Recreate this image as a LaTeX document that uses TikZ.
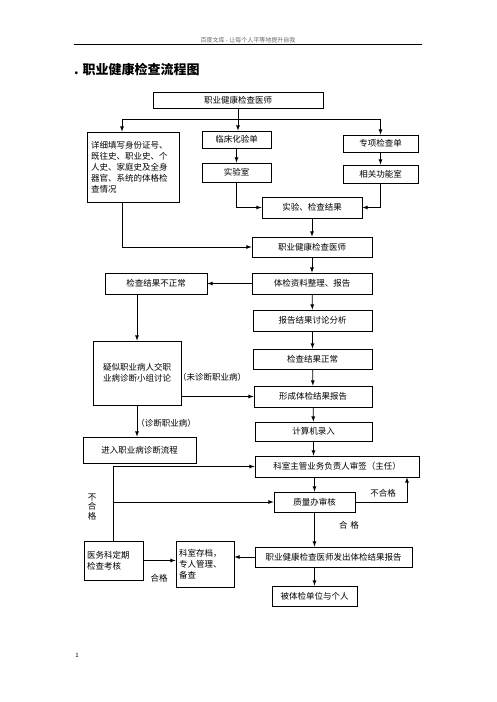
\documentclass[tikz,border=0pt]{standalone}
\usepackage{fontspec}
\setmainfont{Noto Sans CJK SC}
\usetikzlibrary{arrows}

\tikzset{
  box/.style={draw, line width=0.8pt, inner sep=1pt, font=\fontsize{8.5}{11}\selectfont},
  lbl/.style={inner sep=0pt, font=\fontsize{8.5}{11}\selectfont},
  link/.style={line width=0.8pt, ->, >=latex}
}

\begin{document}
\begin{tikzpicture}[x=1pt, y=-1pt]
    \useasboundingbox (0,0) rectangle (496,702);
    % page head
    \node (pagehead) at (248,40) {\fontsize{6}{7}\selectfont\color{black!60}百度文库 - 让每个人平等地提升自我};
    \coordinate (ruleL) at (74,44);
    \coordinate (ruleR) at (422,44);
    \draw [line width=0.9pt] (ruleL) -- (ruleR);
    \node [anchor=west, inner sep=0pt] (title) at (74,69) {\fontsize{13}{15}\selectfont\bfseries . 职业健康检查流程图};
    \node (pageno) at (77,655) {\fontsize{6}{7}\selectfont 1};
    % boxes
    \node [box, minimum width=170, minimum height=16] (doc1) at (238,100) {职业健康检查医师};
    \node [box, minimum width=92, minimum height=70, align=left, text width=84] (info) at (133,167)
      {详细填写身份证号、\\既往史、职业史、个\\人史、家庭史及全身\\器官、系统的体格检\\查情况};
    \node [box, minimum width=69, minimum height=17] (clin) at (236.5,139.5) {临床化验单};
    \node [box, minimum width=69, minimum height=19] (lab) at (236.5,172.5) {实验室};
    \node [box, minimum width=75, minimum height=17] (spec) at (380.5,143.5) {专项检查单};
    \node [box, minimum width=75, minimum height=18] (func) at (380.5,174) {相关功能室};
    \node [box, minimum width=100, minimum height=21] (result) at (312,207.5) {实验、检查结果};
    \node [box, minimum width=120, minimum height=20] (doc2) at (312,247) {职业健康检查医师};
    \node [box, minimum width=120, minimum height=21] (sort) at (312,283.5) {体检资料整理、报告};
    \node [box, minimum width=102, minimum height=21] (abn) at (156,283.5) {检查结果不正常};
    \node [box, minimum width=119, minimum height=21] (disc) at (312.5,320.5) {报告结果讨论分析};
    \node [box, minimum width=119, minimum height=20] (norm) at (312.5,359) {检查结果正常};
    \node [box, minimum width=88, minimum height=64, align=center] (susp) at (137,373) {疑似职业病人交职\\业病诊断小组讨论};
    \node [box, minimum width=118, minimum height=21] (form) at (313,396.5) {形成体检结果报告};
    \node [box, minimum width=117, minimum height=19] (comp) at (313.5,431.5) {计算机录入};
    \node [box, minimum width=113, minimum height=26] (diag) at (139.5,450) {进入职业病诊断流程};
    \node [box, minimum width=164, minimum height=21] (head) at (337,466.5) {科室主管业务负责人审签（主任）};
    \node [box, minimum width=81, minimum height=20] (qual) at (314.5,502) {质量办审核};
    \node [box, minimum width=59, minimum height=39, align=left, text width=53] (med) at (113.5,560.5) {医务科定期\\检查考核};
    \node [box, minimum width=58, minimum height=46, align=left, text width=52] (arch) at (205,564) {科室存档，\\专人管理、\\备查};
    \node [box, minimum width=157, minimum height=20] (issue) at (333.5,557) {职业健康检查医师发出体检结果报告};
    \node [box, minimum width=85, minimum height=20] (recv) at (314.5,596) {被体检单位与个人};
    % labels
    \node [lbl] (notdiag) at (212,377) {（未诊断职业病）};
    \node [lbl] (isdiag) at (166,423) {（诊断职业病）};
    \node [lbl] (failR) at (383,493) {不合格};
    \node [lbl, align=center, font=\fontsize{8.5}{9.5}\selectfont] (failL) at (92,507) {不\\合\\格};
    \node [lbl] (passL) at (159,578) {合格};
    \node [lbl] (passR) at (349,525) {合\,\,格};
    % connectors
    \coordinate (fork) at (238,119);
    \draw [line width=0.8pt] (doc1.south) -- (fork);
    \draw [link] (fork) -| ([xshift=-11pt]info.north);
    \draw [link] (fork) -| (spec.north);
    \draw [link] (fork) -- (fork |- clin.north);
    \draw [link] (clin) -- (lab);
    \draw [link] (spec) -- (func);
    \draw [link] (lab.south) |- (result.west);
    \draw [link] (func.south) |- (result.east);
    \draw [link] (result) -- (doc2);
    \draw [link] ([xshift=-11pt]info.south) |- (doc2.west);
    \draw [link] (doc2) -- (sort);
    \draw [link] (sort) -- (abn);
    \draw [link] (sort) -- (disc);
    \draw [link] (disc) -- (norm);
    \draw [link] (abn.south -| susp.north) -- (susp.north);
    \draw [link] (norm) -- (form);
    \draw [link] (susp.east |- form.west) -- (form.west);
    \draw [link] (form) -- (comp);
    \draw [link] (susp.south) -- (susp.south |- diag.north);
    \draw [link] (comp.south) -- (comp.south |- head.north);
    \draw [link] (qual.north |- head.south) -- (qual.north);
    \draw [link] (qual.east) -| ([xshift=70pt]head.south);
    \draw [link] (med.north) |- (head.west);
    \draw [link] (med.north |- qual.west) -- (qual.west);
    \draw [link] (med.east) -- (med.east -| arch.west);
    \draw [link] (qual.south) -- (qual.south |- issue.north);
    \draw [link] (issue.west) -- (issue.west -| arch.east);
    \draw [link] (recv.north |- issue.south) -- (recv.north);
\end{tikzpicture}
\end{document}
